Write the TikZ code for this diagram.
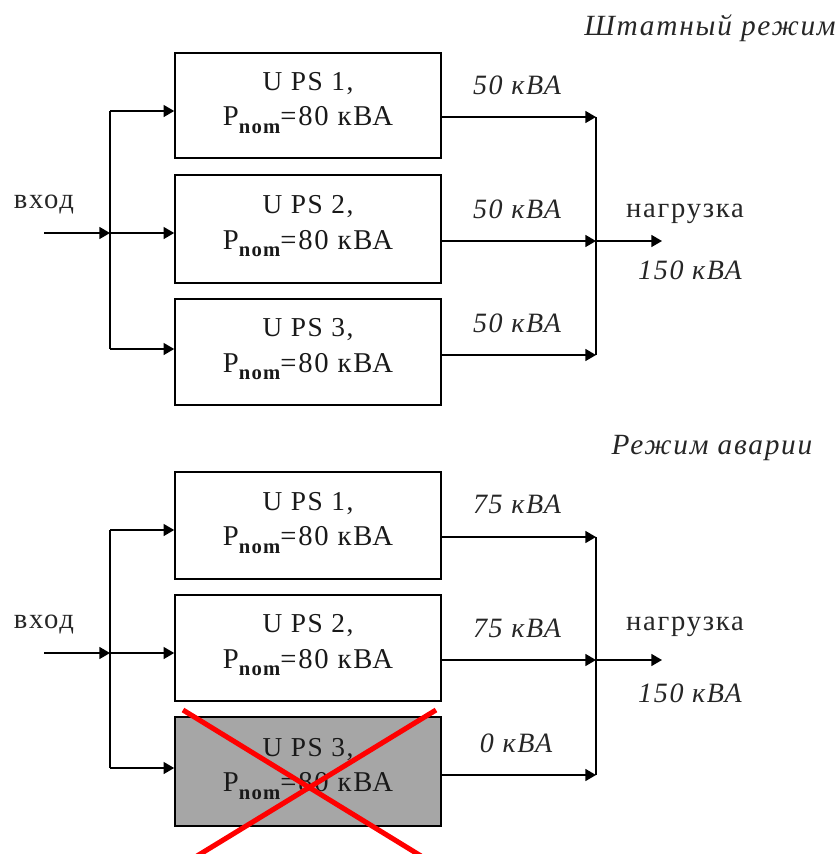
\documentclass[tikz,border=0pt]{standalone}
\usepackage{fontspec}
\usetikzlibrary{arrows.meta,calc}
\setmainfont{Liberation Serif}
\newfontfamily\upf[LetterSpace=6]{Liberation Serif}
\newfontfamily\itf[LetterSpace=6,ItalicFont={Liberation Serif Italic}]{Liberation Serif}
\newcommand{\upsbody}[1]{\raisebox{2pt}[\height][\depth]{\begin{tabular}{@{}c@{}}\fontsize{20.5pt}{27pt}\selectfont #1\\\rule{0pt}{23pt}\fontsize{21.5pt}{27pt}\selectfont P{\raisebox{-0.25em}{\fontsize{15.5pt}{16pt}\selectfont\bfseries nom}}=80 кВА\end{tabular}}}
\tikzset{
  x=0.75pt,y=-0.75pt,
  wire/.style={line width=1.2pt,black},
  arr/.style={wire,-{Triangle[length=8pt,width=9pt]}},
  ups/.style={draw=black,line width=1.2pt,fill=white,minimum width=199.5pt,inner sep=0pt,align=center,font=\upf,text=black!90},
  lab/.style={inner sep=0pt,font=\upf\fontsize{21.5pt}{24pt}\selectfont,text=black!85},
  ital/.style={inner sep=0pt,font=\itf\itshape\fontsize{21pt}{24pt}\selectfont,text=black!85},
  ttl/.style={inner sep=0pt,font=\itf\itshape\fontsize{22pt}{24pt}\selectfont,text=black!85},
  cross/.style={line width=3.8pt,red}
}
\begin{document}
\begin{tikzpicture}
\useasboundingbox (0,0) rectangle (838,854);
% Upper diagram
\node[ups,minimum height=78.75pt] (a1) at (308,105.5) {\upsbody{U PS 1,}};
\node[ups,minimum height=81pt] (a2) at (308,229) {\upsbody{U PS 2,}};
\node[ups,minimum height=79.5pt] (a3) at (308,352) {\upsbody{U PS 3,}};
\coordinate (ain) at (44,233);
\coordinate (aj) at (110,233);
\coordinate (at) at (110,111);
\coordinate (ab) at (110,349);
\coordinate (ob1) at (596,117);
\coordinate (ob2) at (596,241);
\coordinate (ob3) at (596,355);
\coordinate (aout) at (662,241);
\draw[arr] (ain) -- (aj);
\draw[wire] (at) -- (ab);
\draw[arr] (at) -- (at -| a1.west);
\draw[arr] (aj) -- (aj -| a2.west);
\draw[arr] (ab) -- (ab -| a3.west);
\draw[arr] (ob1 -| a1.east) -- (ob1);
\draw[arr] (ob2 -| a2.east) -- (ob2);
\draw[arr] (ob3 -| a3.east) -- (ob3);
\draw[wire] (ob1) -- (ob3);
\draw[arr] (ob2) -- (aout);
\node[ttl,anchor=east] (at0) at (836,28) {Штатный режим};
\node[lab] (av) at (44,205) {вход};
\node[ital] (al1) at (517,85) {50 кВА};
\node[ital] (al2) at (517,209) {50 кВА};
\node[ital] (al3) at (517,323) {50 кВА};
\node[lab] (an) at (685,214) {нагрузка};
\node[ital] (ap) at (690,270) {150 кВА};
% Lower diagram
\node[ups,minimum height=80.25pt] (b1) at (308,525.5) {\upsbody{U PS 1,}};
\node[ups,minimum height=79.5pt] (b2) at (308,648) {\upsbody{U PS 2,}};
\node[ups,fill=black!35,minimum height=81.75pt] (b3) at (308,771.5) {\upsbody{U PS 3,}};
\coordinate (bin) at (44,653);
\coordinate (bj) at (110,653);
\coordinate (bt) at (110,530);
\coordinate (bb) at (110,768);
\coordinate (pb1) at (596,537);
\coordinate (pb2) at (596,660);
\coordinate (pb3) at (596,775);
\coordinate (bout) at (662,660);
\draw[arr] (bin) -- (bj);
\draw[wire] (bt) -- (bb);
\draw[arr] (bt) -- (bt -| b1.west);
\draw[arr] (bj) -- (bj -| b2.west);
\draw[arr] (bb) -- (bb -| b3.west);
\draw[arr] (pb1 -| b1.east) -- (pb1);
\draw[arr] (pb2 -| b2.east) -- (pb2);
\draw[arr] (pb3 -| b3.east) -- (pb3);
\draw[wire] (pb1) -- (pb3);
\draw[arr] (pb2) -- (bout);
\node[ttl] (bt0) at (712,448) {Режим аварии};
\node[lab] (bv) at (44,625) {вход};
\node[ital] (bl1) at (517,504) {75 кВА};
\node[ital] (bl2) at (517,628) {75 кВА};
\node[ital] (bl3) at (516,743) {0 кВА};
\node[lab] (bn) at (685,627) {нагрузка};
\node[ital] (bp) at (690,693) {150 кВА};
% Red cross
\coordinate (x1) at (183,710);
\coordinate (x2) at (421,856);
\coordinate (x3) at (436,710);
\coordinate (x4) at (197,856);
\draw[cross] (x1) -- (x2);
\draw[cross] (x3) -- (x4);
\end{tikzpicture}
\end{document}
